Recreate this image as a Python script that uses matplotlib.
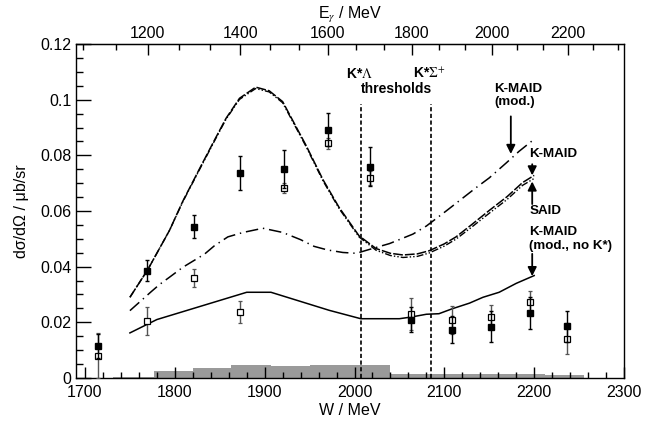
import numpy as np
import matplotlib
matplotlib.use("Agg")
import matplotlib.pyplot as plt
from matplotlib.ticker import MultipleLocator, FixedLocator, FormatStrFormatter

plt.rcParams['font.family'] = ['Liberation Sans', 'DejaVu Sans']
plt.rcParams['mathtext.fontset'] = 'stix'
plt.rcParams['lines.scale_dashes'] = False

MP = 938.272  # proton mass / MeV

# data points (W / MeV, dsigma/dOmega / mub/sr)
w_pts = [1715, 1769, 1821, 1873, 1921, 1970, 2017, 2063, 2108, 2152, 2195, 2237]
filled = [0.0114, 0.0386, 0.0544, 0.0736, 0.0750, 0.0892, 0.0759, 0.0210, 0.0174, 0.0185, 0.0233, 0.0186]
filled_err = [0.0043, 0.0039, 0.0042, 0.0062, 0.0069, 0.0060, 0.0070, 0.0044, 0.0050, 0.0055, 0.0058, 0.0055]
opened = [0.0080, 0.0205, 0.0360, 0.0236, 0.0682, 0.0843, 0.0719, 0.0230, 0.0207, 0.0218, 0.0274, 0.0141]
opened_err = [0.0080, 0.0050, 0.0033, 0.0040, 0.0018, 0.0020, 0.0025, 0.0058, 0.0050, 0.0043, 0.0040, 0.0056]

# model curves
w_kmaid = [1750, 1770, 1794, 1809, 1828, 1845, 1857, 1872, 1890, 1905, 1920, 1946, 1965, 1983,
           2005, 2024, 2040, 2054, 2070, 2083, 2100, 2113, 2130, 2150, 2170, 2187, 2200]
kmaid = [0.029, 0.039, 0.053, 0.0636, 0.0755, 0.086, 0.0933, 0.1005, 0.1045, 0.1032, 0.0993, 0.0836,
         0.0712, 0.0612, 0.0511, 0.0465, 0.0448, 0.0442, 0.0446, 0.0457, 0.0482, 0.0507, 0.0550,
         0.0602, 0.0652, 0.0702, 0.0728]
said = [0.029, 0.039, 0.053, 0.0634, 0.0752, 0.0857, 0.0930, 0.1001, 0.1040, 0.1028, 0.0989, 0.0832,
        0.0708, 0.0608, 0.0507, 0.0459, 0.0440, 0.0433, 0.0437, 0.0449, 0.0474, 0.0499, 0.0541,
        0.0592, 0.0642, 0.0692, 0.0717]

w_mod = [1750, 1774, 1783, 1794, 1809, 1833, 1844, 1859, 1876, 1898, 1920, 1940, 1955, 1970, 1987,
         2002, 2024, 2039, 2065, 2080, 2102, 2135, 2150, 2169, 2183, 2200]
kmaid_mod = [0.0242, 0.0311, 0.0336, 0.0362, 0.0398, 0.0445, 0.0475, 0.0507, 0.0523, 0.0538, 0.0523,
             0.0497, 0.0473, 0.0460, 0.0451, 0.0448, 0.0469, 0.0483, 0.0517, 0.0546, 0.0600,
             0.0683, 0.0719, 0.0773, 0.0814, 0.0858]

w_nok = [1750, 1765, 1780, 1880, 1907, 1972, 2007, 2050, 2063, 2080, 2094, 2109, 2128, 2143, 2161, 2180, 2200]
kmaid_nok = [0.0162, 0.0186, 0.0210, 0.0308, 0.0308, 0.0243, 0.0213, 0.0213, 0.0219, 0.0229, 0.0231,
             0.0249, 0.0269, 0.0290, 0.0308, 0.0340, 0.0368]

# systematic error band
sys_edges = [1731, 1777, 1820, 1863, 1907, 1950, 1995, 2039, 2082, 2126, 2170, 2212, 2255]
sys_vals = [0.0004, 0.0026, 0.0037, 0.0047, 0.0044, 0.0047, 0.0048, 0.0015, 0.0015, 0.0015, 0.0014, 0.0012]

thresholds = [2007, 2085]


def w_to_e(w):
    w = np.asarray(w, dtype=float)
    return (w**2 - MP**2) / (2 * MP)


def e_to_w(e):
    e = np.asarray(e, dtype=float)
    return np.sqrt(np.clip(MP**2 + 2 * MP * e, 0, None))


fig = plt.figure(figsize=(6.57, 4.24), dpi=100)
ax = fig.add_axes([0.1157, 0.1085, 0.8341, 0.7877])

ax.stairs(sys_vals, sys_edges, fill=True, color='#9a9a9a', zorder=1)

ax.plot(w_kmaid, kmaid, color='k', lw=1.1, dashes=(7, 1.5), zorder=3)
ax.plot(w_kmaid, said, color='k', lw=1.0, dashes=(5, 1.5, 1, 1.5, 1, 1.5), zorder=3)
ax.plot(w_mod, kmaid_mod, color='k', lw=1.1, dashes=(9, 3.5, 1, 3.5), zorder=3)
ax.plot(w_nok, kmaid_nok, color='k', lw=1.1, zorder=3)

for t in thresholds:
    ax.plot([t, t], [0, 0.0985], color='k', lw=1.2, dashes=(3, 1.8), zorder=2)

ax.errorbar(w_pts, opened, yerr=opened_err, fmt='s', ms=5, mfc='white', mec='k', mew=0.9,
            ecolor='#555555', elinewidth=1, capsize=1.5, zorder=4)
ax.errorbar(w_pts, filled, yerr=filled_err, fmt='s', ms=5, mfc='k', mec='k',
            ecolor='k', elinewidth=1, capsize=1.5, zorder=5)

ax.set_xlim(1690, 2300)
ax.set_ylim(0, 0.12)
ax.xaxis.set_major_locator(MultipleLocator(100))
ax.xaxis.set_minor_locator(MultipleLocator(20))
ax.yaxis.set_major_locator(MultipleLocator(0.02))
ax.yaxis.set_minor_locator(MultipleLocator(0.005))
ax.yaxis.set_major_formatter(FormatStrFormatter('%g'))
ax.tick_params(axis='both', which='both', direction='in', labelsize=11.5, width=1, top=False, right=False)
ax.tick_params(axis='y', which='major', length=11)
ax.tick_params(axis='y', which='minor', length=5)
ax.tick_params(axis='x', which='major', length=8, pad=5)
ax.tick_params(axis='x', which='minor', length=4.5)
for s in ax.spines.values():
    s.set_linewidth(1)

ax.set_xlabel('W / MeV', fontsize=11.5, labelpad=2)
ax.set_ylabel('dσ/dΩ / μb/sr', fontsize=11.5, labelpad=8)

top = ax.secondary_xaxis('top', functions=(w_to_e, e_to_w))
top.xaxis.set_major_locator(FixedLocator(np.arange(1200, 2201, 200)))
top.xaxis.set_minor_locator(FixedLocator(np.arange(1000, 2401, 200 / 3)))
top.tick_params(axis='x', which='both', direction='in', labelsize=11.5, width=1)
top.tick_params(axis='x', which='major', length=8, pad=2.5)
top.tick_params(axis='x', which='minor', length=4.5)
top.set_xlabel(r'E$_\gamma$ / MeV', fontsize=11.5, labelpad=5)

# threshold labels
ax.text(2005.6, 0.1093, r'K*$\Lambda$', ha='center', va='center', fontsize=10, fontweight='bold')
ax.text(2083, 0.1093, r'K*$\Sigma^{+}$', ha='center', va='center', fontsize=10, fontweight='bold')
ax.text(2046.7, 0.1039, 'thresholds', ha='center', va='center', fontsize=10, fontweight='bold')

arrow = dict(arrowstyle='-|>', color='k', lw=1.3, mutation_scale=13, shrinkA=0, shrinkB=0)
ax.annotate('', xy=(2174, 0.0805), xytext=(2174, 0.0940), arrowprops=arrow)
ax.text(2155.6, 0.1061, 'K-MAID\n(mod.)', ha='left', va='top', fontsize=9.6, fontweight='bold',
        linespacing=1.15)

ax.annotate('', xy=(2197.8, 0.0728), xytext=(2197.8, 0.0768), arrowprops=arrow)
ax.text(2194.4, 0.0804, 'K-MAID', ha='left', va='center', fontsize=9.6, fontweight='bold')

ax.annotate('', xy=(2197.8, 0.0706), xytext=(2197.8, 0.0625), arrowprops=arrow)
ax.text(2194.4, 0.0600, 'SAID', ha='left', va='center', fontsize=9.6, fontweight='bold')

ax.annotate('', xy=(2197.8, 0.0366), xytext=(2197.8, 0.0446), arrowprops=arrow)
ax.text(2194.4, 0.0545, 'K-MAID\n(mod., no K*)', ha='left', va='top', fontsize=9.6, fontweight='bold',
        linespacing=1.15)

fig.savefig('out.png', dpi=100)
